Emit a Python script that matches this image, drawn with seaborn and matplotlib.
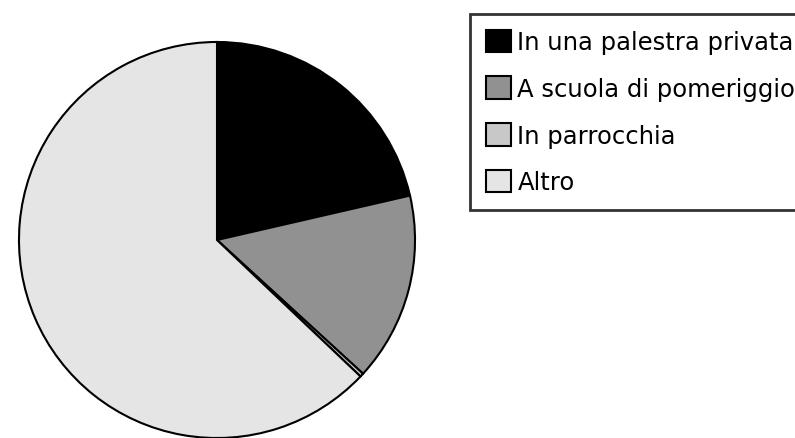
import matplotlib
matplotlib.use("Agg")
import matplotlib.pyplot as plt
import seaborn as sns

labels = ["In una palestra privata", "A scuola di pomeriggio", "In parrocchia", "Altro"]
values = [21.4, 15.4, 0.3, 62.9]
colors = ["#000000", "#919191", "#c8c8c8", "#e5e5e5"]

sns.set_style("white")
plt.rcParams['font.family'] = ['DejaVu Sans']

fig = plt.figure(figsize=(7.95, 4.39), dpi=100)
W, H = 795, 439
ax = fig.add_axes([17 / W, (H - 441) / H, 400 / W, 400 / H])
wedges, _ = ax.pie(values, colors=colors, startangle=90, counterclock=False,
                   wedgeprops=dict(edgecolor="black", linewidth=1.5))
ax.set_xlim(-1.01, 1.01)
ax.set_ylim(-1.01, 1.01)
ax.set_aspect("equal")
ax.axis("off")

leg = fig.legend(wedges, labels, loc="upper left", bbox_to_anchor=(470 / W, 1 - 15 / H),
                 fontsize=17.5, frameon=True, fancybox=False, edgecolor="black",
                 handlelength=1.05, handleheight=1.05, handletextpad=0.25,
                 labelspacing=0.91, borderpad=0.65, borderaxespad=0)
leg.get_frame().set_linewidth(2)
for t in leg.get_texts():
    t.set_color("black")
for h in leg.legend_handles:
    h.set_edgecolor("black")
    h.set_linewidth(1.5)

fig.savefig("out.png", dpi=100)
